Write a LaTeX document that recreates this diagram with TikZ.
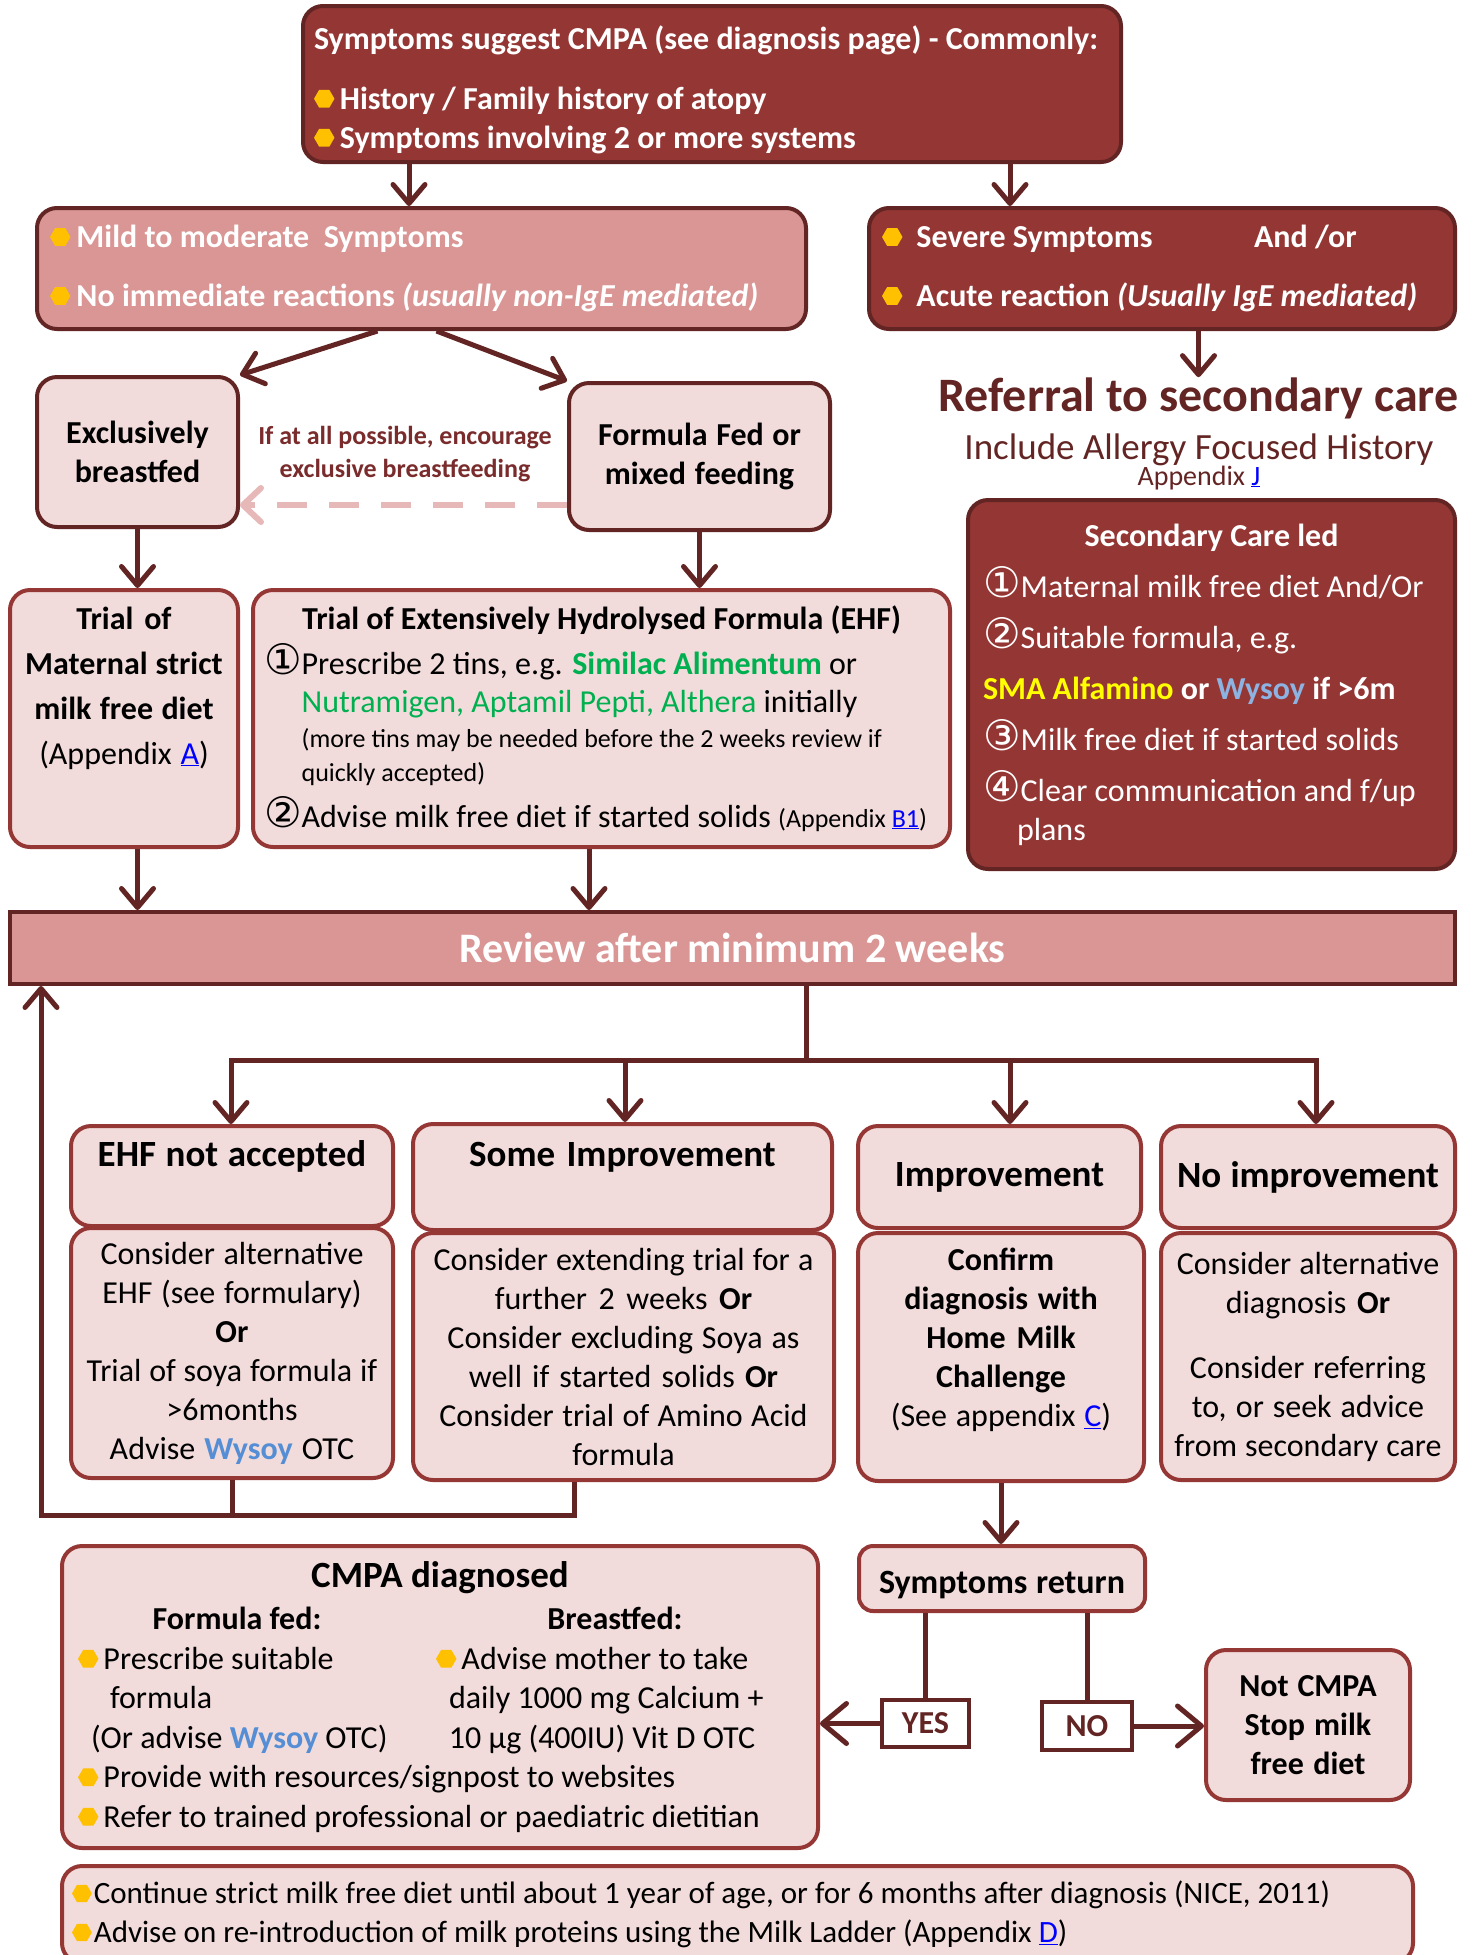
\documentclass[tikz,border=0pt]{standalone}
\usepackage{fontspec}
\setmainfont{Carlito}
\newfontfamily\circfont{DejaVu Sans}
\usetikzlibrary{arrows.meta}

\definecolor{darkred}{HTML}{943634}
\definecolor{edgered}{HTML}{632523}
\definecolor{boxred}{HTML}{953735}
\definecolor{notered}{HTML}{7A2C2C}
\definecolor{rosefill}{HTML}{D99694}
\definecolor{palefill}{HTML}{F2DCDB}
\definecolor{dashpink}{HTML}{E6B9B8}
\definecolor{bulletgold}{HTML}{FFC000}
\definecolor{formgreen}{HTML}{00B050}
\definecolor{soyblue}{HTML}{558ED5}
\definecolor{soylight}{HTML}{8DB3E2}
\definecolor{smayellow}{HTML}{FFFF00}
\definecolor{linkblue}{HTML}{0000FF}

\newcommand{\hexdot}{\tikz[baseline={(0pt,-0.33em)}, sharp corners]\fill[bulletgold] (0:0.32em) -- (60:0.32em) -- (120:0.32em) -- (180:0.32em) -- (240:0.32em) -- (300:0.32em) -- cycle;}
\newcommand{\cnum}[1]{{\circfont\fontsize{42}{39}\selectfont #1}}
\newcommand{\applink}[1]{\textcolor{linkblue}{\underline{#1}}}
\newcommand{\bodyfont}{\fontsize{32}{39}\selectfont}
\newcommand{\headfont}{\fontsize{37}{45}\selectfont\bfseries}
\newcommand{\smallfont}{\fontsize{26}{33}\selectfont}

\begin{document}
\begin{tikzpicture}[x=1pt, y=-1pt, >={Straight Barb[length=19pt,width=32pt,round]},
	every node/.append style={execute at begin node={\spaceskip=0pt\xspaceskip=0pt\relax}},
	box/.style={rounded corners=20pt, line width=4pt, inner sep=0pt, align=center, font=\bodyfont},
	boxsize/.style 2 args={minimum width=#1pt, minimum height=#2pt},
	darkbox/.style={box, draw=edgered, fill=darkred, text=white, font=\bodyfont\bfseries},
	rosebox/.style={box, draw=edgered, fill=rosefill, text=white, font=\bodyfont\bfseries},
	palebox/.style={box, draw=boxred, fill=palefill},
	feedbox/.style={palebox, draw=edgered, font=\bodyfont\bfseries},
	headbox/.style={palebox, font=\headfont},
	answer/.style={draw=edgered, fill=white, line width=4pt, inner sep=0pt, text=edgered, font=\bodyfont\bfseries},
	flow/.style={draw=edgered, line width=5pt},
	bigtip/.style={-{Straight Barb[length=24pt,width=40pt,round]}},
	hint/.style={draw=dashpink, line width=6pt, dash pattern=on 30pt off 22pt, -{Straight Barb[length=18pt,width=34pt,round]}}]
	
	\useasboundingbox (0,0) rectangle (1474,1955);
	\fill[white] (0,0) rectangle (1474,1955);
	
	% top part
	\node [darkbox, boxsize={818}{156}, text width=796pt, align=left] (symptoms) at (712,84)
	{\rule{0pt}{35pt}Symptoms suggest CMPA (see diagnosis page) - Commonly:\\[21pt]\hexdot\,History / Family history of atopy\\\hexdot\,Symptoms involving 2 or more systems};
	
	\node [rosebox, boxsize={769}{121}, text width=743pt, align=left] (mild) at (421.5,268.5)
	{\hexdot\hspace{6pt}Mild to moderate\ \ Symptoms\\[20pt]\hexdot\hspace{6pt}No immediate reactions \textit{(usually non-IgE mediated)}};
	
	\node [darkbox, boxsize={586}{121}, text width=560pt, align=left] (severe) at (1162,268.5)
	{\makebox[372pt][l]{\hexdot\hspace{14pt}Severe Symptoms}And /or\\[20pt]\hexdot\hspace{14pt}Acute reaction \textit{(Usually IgE mediated)}};
	
	\node [anchor=base, inner sep=0pt, text=edgered, font=\fontsize{48}{58}\selectfont\bfseries] (referral) at (1198.5,411) {Referral to secondary care};
	\node [anchor=base, inner sep=0pt, text=edgered, font=\fontsize{37}{45}\selectfont] (allergy) at (1199,459) {Include Allergy Focused History};
	\node [anchor=base, inner sep=0pt, text=edgered, font=\fontsize{28}{34}\selectfont] (appendixj) at (1199,485) {Appendix \applink{J}};
	
	\node [darkbox, boxsize={487}{369}, text width=457pt, align=left, font=\bodyfont] (secondary) at (1211.5,684.5)
	{\makebox[\linewidth]{\bfseries Secondary Care led}\\[12pt]
		\cnum{①}Maternal milk free diet And/Or\\[12pt]
		\cnum{②}Suitable formula, e.g.\\[12pt]
		\textbf{\textcolor{smayellow}{SMA Alfamino} or \textcolor{soylight}{Wysoy} if >6m}\\[12pt]
		\cnum{③}Milk free diet if started solids\\[12pt]
		\cnum{④}Clear communication and f/up\\
		\hspace*{34pt}plans};
	
	% feeding
	\node [feedbox, boxsize={201}{150}, text width=190pt] (excl) at (137.5,452) {Exclusively\\breastfed};
	\node [feedbox, boxsize={261}{147}, text width=250pt] (formula) at (699.5,456.5) {Formula Fed or\\mixed feeding};
	\node [inner sep=0pt, align=center, text=notered, font=\fontsize{26}{33}\selectfont\bfseries] (encourage) at (405,454)
	{If at all possible, encourage\\exclusive breastfeeding};
	
	\node [palebox, boxsize={228}{257}, text width=220pt, font=\fontsize{32}{45}\selectfont] (trialm) at (124,718.5)
	{\textbf{Trial of}\\\textbf{Maternal strict}\\\textbf{milk free diet}\\(Appendix \applink{A})\\[21pt]\mbox{}};
	
	\node [palebox, boxsize={697}{257}, text width=675pt, align=left] (ehf) at (601.5,718.5)
	{\makebox[\linewidth]{\bfseries Trial of Extensively Hydrolysed Formula (EHF)}\\[6pt]
		\cnum{①}Prescribe 2 tins, e.g. \textcolor{formgreen}{\bfseries Similac Alimentum} or\\[-1pt]
		\phantom{\cnum{①}}\textcolor{formgreen}{Nutramigen, Aptamil Pepti, Althera} initially\\[-4pt]
		\phantom{\cnum{①}}{\smallfont(more tins may be needed before the 2 weeks review if}\\[-5pt]
		\phantom{\cnum{①}}{\smallfont quickly accepted)}\\[7pt]
		\cnum{②}Advise milk free diet if started solids {\smallfont(Appendix \applink{B1})}};
	
	\node [draw=edgered, fill=rosefill, line width=4pt, minimum width=1445pt, minimum height=72pt, inner sep=0pt, text=white, font=\fontsize{42}{50}\selectfont\bfseries] (review) at (732.5,948)
	{Review after minimum 2 weeks};
	
	% outcomes
	\node [headbox, boxsize={322}{100}, text width=312pt] (notacc) at (232,1176) {EHF not accepted\\\mbox{}};
	\node [headbox, boxsize={419}{106}, text width=409pt] (someimp) at (622.5,1177) {Some Improvement\\\mbox{}};
	\node [headbox, boxsize={283}{102}, text width=273pt] (improv) at (999.5,1177) {Improvement};
	\node [headbox, boxsize={294}{102}, text width=290pt] (noimp) at (1308,1177) {No improvement};
	
	\node [palebox, boxsize={322}{250}, text width=312pt] (notaccsub) at (232,1353)
	{Consider alternative\\EHF (see formulary)\\\textbf{Or}\\Trial of soya formula if\\>6months\\Advise \textcolor{soyblue}{\textbf{Wysoy}} OTC};
	\node [palebox, boxsize={421}{247}, text width=411pt] (someimpsub) at (623.5,1356.5)
	{Consider extending trial for a\\further 2 weeks \textbf{Or}\\Consider excluding Soya as\\well if started solids \textbf{Or}\\Consider trial of Amino Acid\\formula};
	\node [palebox, boxsize={286}{248}, text width=276pt] (improvsub) at (1001,1357)
	{{\bfseries Confirm\\diagnosis with\\Home Milk\\Challenge}\\(See appendix \applink{C})\\\mbox{}};
	\node [palebox, boxsize={294}{247}, text width=290pt] (noimpsub) at (1308,1356.5)
	{\rule{0pt}{20pt}Consider alternative\\diagnosis \textbf{Or}\\[26pt]Consider referring\\to, or seek advice\\from secondary care};
	
	\node [palebox, rounded corners=14pt, boxsize={286}{65}, text width=280pt, font=\fontsize{34}{41}\selectfont\bfseries] (symret) at (1002,1578.5) {\rule{0pt}{35pt}Symptoms return};
	\node [answer, boxsize={87}{47}] (yes) at (925.5,1723.5) {YES};
	\node [answer, boxsize={90}{48}] (no) at (1087,1726) {NO};
	\node [palebox, boxsize={204}{150}, text width=195pt, font=\bodyfont\bfseries] (notcmpa) at (1308,1725) {Not CMPA\\Stop milk\\free diet};
	
	\node [palebox, boxsize={756}{302}, text width=724pt, align=left, font=\fontsize{32}{39.5}\selectfont] (cmpa) at (440,1697)
	{\makebox[\linewidth]{\fontsize{37}{45}\selectfont\bfseries CMPA diagnosed}\\[3pt]
		\makebox[318pt]{\bfseries Formula fed:}\hspace*{119pt}\makebox[200pt]{\bfseries Breastfed:}\\
		\makebox[358pt][l]{\hexdot\hspace{5pt}Prescribe suitable}\hexdot\hspace{5pt}Advise mother to take\\
		\makebox[358pt][l]{\hspace*{32pt}formula}\hspace*{13pt}daily 1000 mg Calcium +\\
		\makebox[358pt][l]{\hspace*{13pt}(Or advise \textcolor{soyblue}{\textbf{Wysoy}} OTC)}\hspace*{13pt}10 µg (400IU) Vit D OTC\\
		\hexdot\hspace{5pt}Provide with resources/signpost to websites\\
		\hexdot\hspace{5pt}Refer to trained professional or paediatric dietitian};
	
	\node [palebox, boxsize={1351}{97}, text width=1331pt, align=left, font=\fontsize{31}{39}\selectfont] (ongoing) at (737.5,1914.5)
	{\hexdot\hspace{2pt}Continue strict milk free diet until about 1 year of age, or for 6 months after diagnosis (NICE, 2011)\\\hexdot\hspace{2pt}Advise on re-introduction of milk proteins using the Milk Ladder (Appendix \applink{D})};
	
	% connectors
	\coordinate (leftcol) at (409,0);
	\coordinate (rightcol) at (1010,0);
	\coordinate (ehfcol) at (589,0);
	\coordinate (dashrow) at (0,505);
	\coordinate (busc) at (806,1060);
	\coordinate (loopleft) at (41,1515);
	\coordinate (loopright) at (574,1515);
	\foreach \h/\cx in {notacc/231, someimp/625, improv/1010, noimp/1316}
	\coordinate (\h-col) at (\cx,1060);
	
	\draw [flow,->] (symptoms.south -| leftcol) -- (mild.north -| leftcol);
	\draw [flow,->] (symptoms.south -| rightcol) -- (severe.north -| rightcol);
	\draw [flow,->] (referral.north |- severe.south) -- (referral.north);
	\draw [flow,->] ([xshift=-44pt]mild.south) -- (excl.north east);
	\draw [flow,->] ([xshift=15pt]mild.south) -- (formula.north west);
	\draw [hint] (formula.west |- dashrow) -- (excl.east |- dashrow);
	\draw [flow,->] (excl.south) -- (excl.south |- trialm.north);
	\draw [flow,->] (formula.south) -- (formula.south |- ehf.north);
	\draw [flow,->] (excl.south |- trialm.south) -- (excl.south |- review.north);
	\draw [flow,->] (ehf.south -| ehfcol) -- (review.north -| ehfcol);
	
	\draw [flow] (busc |- review.south) -- (busc);
	\draw [flow, line cap=rect] (notacc-col) -- (noimp-col);
	\foreach \h in {notacc, someimp, improv, noimp}
	\draw [flow,->] (\h-col) -- (\h.north -| \h-col);
	
	\draw [flow] (notaccsub.south) -- (notaccsub.south |- loopleft);
	\draw [flow,->] (loopright |- someimpsub.south) -- (loopright) -- (loopleft) -- (loopleft |- review.south);
	
	\draw [flow,->] (improvsub.south) -- (improvsub.south |- symret.north);
	\draw [flow] (yes.north |- symret.south) -- (yes.north);
	\draw [flow] (no.north |- symret.south) -- (no.north);
	\draw [flow,bigtip] (yes.west) -- (yes.west -| cmpa.east);
	\draw [flow,bigtip] (no.east) -- (no.east -| notcmpa.west);
\end{tikzpicture}
\end{document}
